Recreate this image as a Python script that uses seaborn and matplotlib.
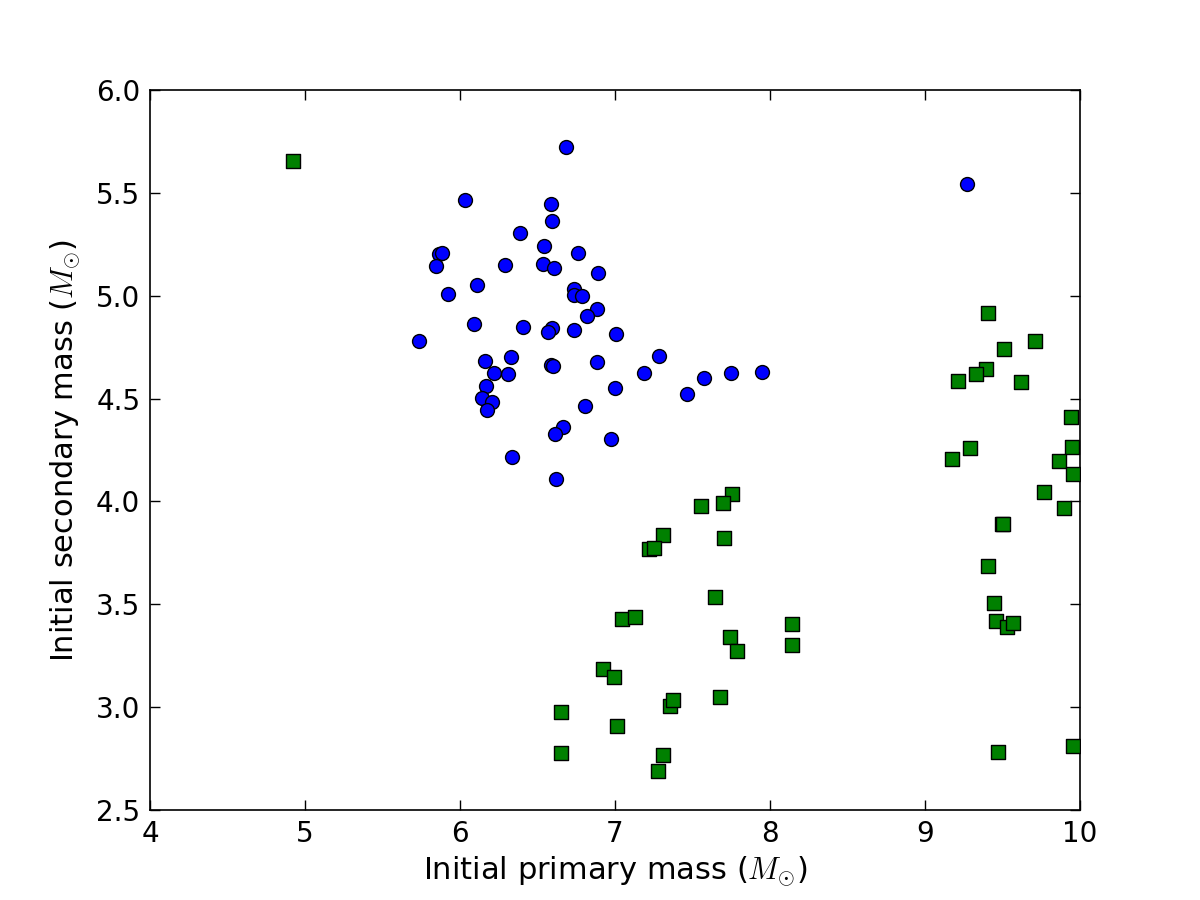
import numpy as np
import pandas as pd
import seaborn as sns
import matplotlib.pyplot as plt

# primary / secondary masses, first group (circles)
m1_circ = [6.682, 6.034, 6.585, 6.591, 6.387, 6.540, 6.759, 5.866, 5.882, 5.842,
           6.288, 6.533, 6.608, 6.888, 6.107, 5.920, 6.735, 6.733, 6.785, 6.881,
           6.821, 6.090, 6.404, 6.595, 6.566, 6.737, 7.007, 5.735, 6.161, 6.331,
           6.221, 6.312, 6.585, 6.600, 6.883, 7.282, 7.189, 7.002, 7.577, 7.746,
           7.948, 7.466, 6.168, 6.144, 6.206, 6.177, 6.808, 6.664, 6.615, 6.974,
           6.337, 6.617, 9.269]
m2_circ = [5.724, 5.467, 5.446, 5.365, 5.305, 5.242, 5.206, 5.203, 5.206, 5.144,
           5.149, 5.153, 5.137, 5.109, 5.052, 5.007, 5.031, 5.005, 4.999, 4.935,
           4.901, 4.862, 4.850, 4.842, 4.822, 4.835, 4.815, 4.778, 4.683, 4.701,
           4.626, 4.621, 4.662, 4.658, 4.677, 4.707, 4.623, 4.551, 4.600, 4.626,
           4.629, 4.522, 4.561, 4.503, 4.485, 4.443, 4.465, 4.360, 4.326, 4.303,
           4.214, 4.109, 5.543]

# second group (squares)
m1_sq = [4.92, 7.755, 7.555, 7.695, 7.310, 7.222, 7.254, 7.705, 7.647, 7.047,
         7.131, 8.145, 8.145, 7.740, 7.787, 6.920, 6.996, 7.355, 7.372, 7.680,
         7.010, 7.311, 7.277, 6.649, 6.653,
         9.409, 9.711, 9.512, 9.394, 9.329, 9.211, 9.621, 9.940, 9.290, 9.950,
         9.176, 9.867, 9.957, 9.770, 9.899, 9.499, 9.505, 9.406, 9.443, 9.456,
         9.531, 9.570, 9.473, 9.957]
m2_sq = [5.655, 4.036, 3.976, 3.991, 3.838, 3.769, 3.775, 3.820, 3.535, 3.430,
         3.440, 3.406, 3.304, 3.340, 3.273, 3.184, 3.146, 3.005, 3.034, 3.051,
         2.908, 2.765, 2.690, 2.978, 2.779,
         4.917, 4.778, 4.741, 4.642, 4.621, 4.585, 4.579, 4.412, 4.262, 4.265,
         4.208, 4.197, 4.133, 4.046, 3.969, 3.892, 3.888, 3.686, 3.506, 3.420,
         3.391, 3.409, 2.782, 2.811]

df_circ = pd.DataFrame({'m1': m1_circ, 'm2': m2_circ})
df_sq = pd.DataFrame({'m1': m1_sq, 'm2': m2_sq})

sns.set_style('ticks')
plt.rcParams['font.family'] = ['DejaVu Sans']
plt.rcParams['mathtext.fontset'] = 'cm'
plt.rcParams['text.color'] = 'black'
plt.rcParams['axes.labelcolor'] = 'black'
plt.rcParams['xtick.color'] = 'black'
plt.rcParams['ytick.color'] = 'black'

fig, ax = plt.subplots(figsize=(12, 9), dpi=100)
fig.subplots_adjust(left=0.125, right=0.9, bottom=0.1, top=0.9)

sns.scatterplot(data=df_circ, x='m1', y='m2', ax=ax, marker='o', s=100,
                color='#0000ff', edgecolor='black', linewidth=1, zorder=3)
sns.scatterplot(data=df_sq, x='m1', y='m2', ax=ax, marker='s', s=90,
                color='#008000', edgecolor='black', linewidth=1, zorder=3)

ax.set_xlim(4, 10)
ax.set_ylim(2.5, 6.0)
ax.set_xticks(np.arange(4, 11, 1))
ax.set_yticks(np.arange(2.5, 6.01, 0.5))
ax.set_yticklabels(['%.1f' % v for v in np.arange(2.5, 6.01, 0.5)])

ax.set_xlabel(r'Initial primary mass ($M_{\odot}$)', fontsize=22, labelpad=5)
ax.set_ylabel(r'Initial secondary mass ($M_{\odot}$)', fontsize=22, labelpad=10)
ax.tick_params(direction='in', top=True, right=True, length=7, width=1,
               labelsize=20, pad=7)
for sp in ax.spines.values():
    sp.set_linewidth(1.2)
    sp.set_color('black')

plt.savefig('out.png', dpi=100)
